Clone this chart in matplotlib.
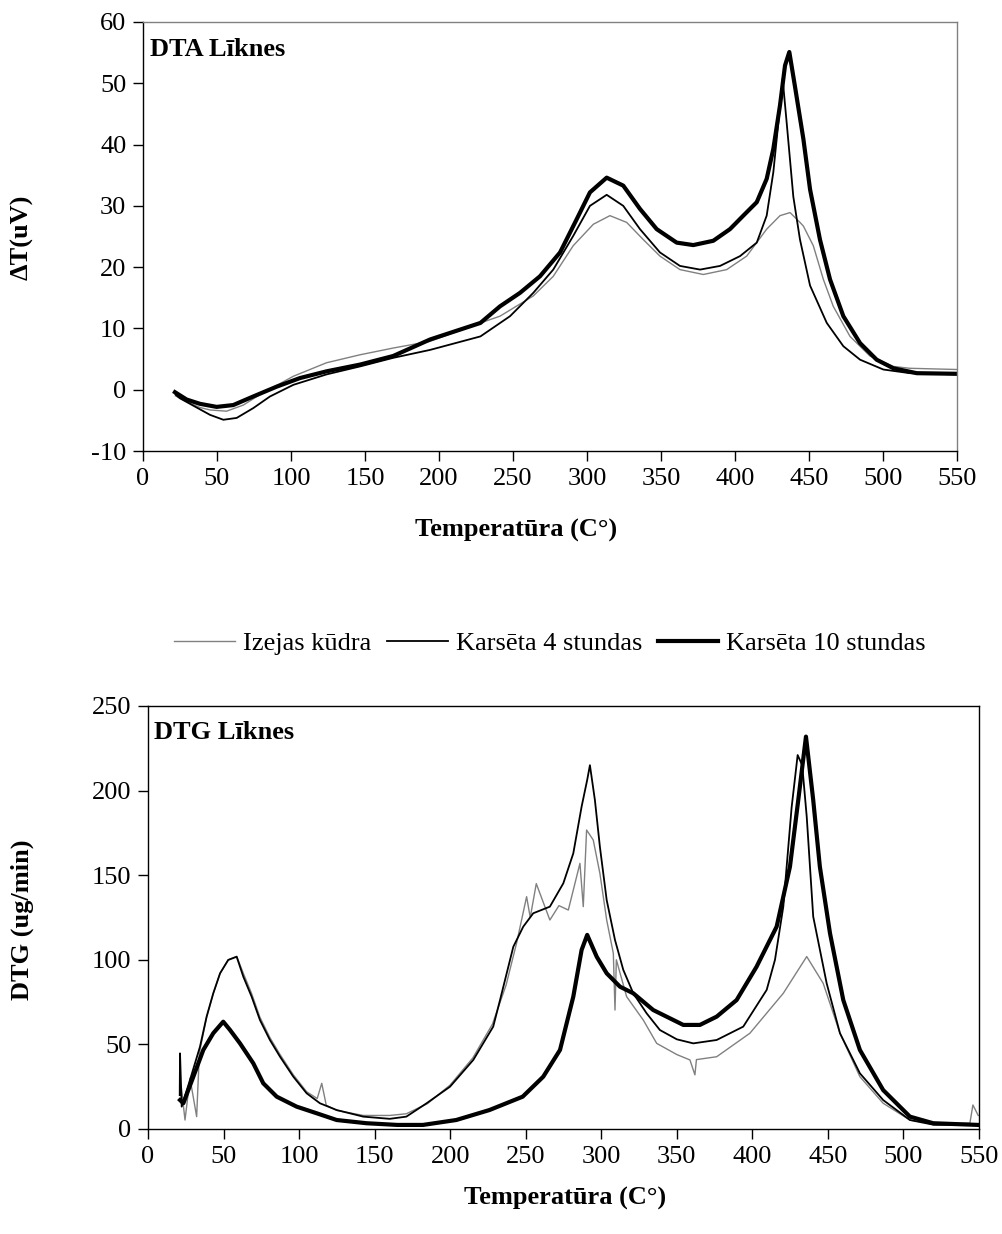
import matplotlib
matplotlib.use("Agg")
import matplotlib.pyplot as plt

plt.rcParams['font.family'] = ['Liberation Serif', 'DejaVu Serif']
plt.rcParams['axes.unicode_minus'] = False

series_names = ["Izejas kūdra", "Karsēta 4 stundas", "Karsēta 10 stundas"]

# DTA curves (temperature C, delta T uV)
dta_raw_t = [22, 30, 38.5, 45.3, 56.5, 67.8, 79, 101.6, 124, 146.6, 169, 194, 228, 241.2, 263.7, 277.2,
             290.7, 304.3, 315.5, 326.8, 338, 349.3, 362.8, 378.6, 394.4, 407.9, 421.4, 430.4, 437.2, 443.9,
             446.2, 452.9, 459.7, 466.4, 477.7, 491.2, 507, 518, 550]
dta_raw_v = [-1.0, -2.0, -2.9, -3.3, -3.5, -2.5, -0.8, 2.2, 4.4, 5.7, 6.8, 7.9, 10.9, 12.0, 15.3, 18.5,
             23.5, 27.0, 28.4, 27.3, 24.5, 21.8, 19.6, 18.8, 19.6, 21.8, 26.2, 28.4, 28.9, 27.3,
             26.7, 23.5, 18.0, 13.6, 8.7, 5.5, 3.8, 3.5, 3.3]

dta_4h_t = [22, 25, 34, 45.3, 54.3, 63.3, 74.5, 85.8, 101.6, 124, 146.6, 169, 194, 228, 248, 263.7, 277.2,
            290.7, 302, 313.3, 324.5, 335.8, 349.3, 362.8, 376.4, 389.9, 403.4, 414.7, 421.4, 425.9, 429.3,
            432.2, 434.9, 439.4, 443.9, 450.7, 462, 473.2, 484.5, 500.2, 518.2, 550]
dta_4h_v = [-0.8, -1.4, -2.6, -4.1, -4.9, -4.6, -3.0, -1.1, 0.8, 2.5, 3.8, 5.2, 6.5, 8.7, 12.0, 15.8, 19.6,
            25.1, 30.0, 31.8, 30.0, 26.2, 22.4, 20.2, 19.6, 20.2, 21.8, 24.0, 28.4, 35.5, 43.6,
            50.7, 43.6, 31.5, 24.5, 17.0, 10.9, 7.1, 4.9, 3.3, 2.7, 2.5]

dta_10h_t = [21.6, 29.5, 38.5, 49.8, 61, 74.5, 90.3, 106, 124, 146.6, 169, 194, 228, 241.2, 254.7, 268.2,
             281.8, 293, 302, 313.3, 324.5, 335.8, 347.1, 360.6, 371.8, 385.3, 396.6, 405.6, 414.7, 421.4,
             425.9, 430.4, 433.8, 436.7, 440.5, 446.2, 450.7, 457.4, 464.2, 473.2, 484.5, 495.7, 507, 522.8, 550]
dta_10h_v = [-0.4, -1.6, -2.3, -2.8, -2.5, -1.1, 0.5, 1.9, 3.0, 4.1, 5.5, 8.2, 10.9, 13.6, 15.8, 18.5,
             22.4, 27.8, 32.2, 34.6, 33.3, 29.5, 26.2, 24.0, 23.6, 24.3, 26.2, 28.4, 30.6, 34.4,
             39.3, 46.4, 52.9, 55.1, 49.5, 40.9, 32.7, 24.5, 18.0, 12.0, 7.6, 4.9, 3.5, 2.7, 2.6]

# DTG curves (temperature C, ug/min)
dtg_raw_t = [22, 24.5, 27.8, 32.2, 34, 38.8, 43.2, 47.7, 53.1, 58.7, 63.1, 68.6, 74.1, 80.7, 87.4, 96.2,
             105, 112, 115, 118, 124.9, 142.5, 160, 171, 185, 200, 215, 228, 237, 244, 250.6, 253, 257, 266,
             272, 278.2, 285.9, 288.1, 290.3, 294.7, 299.1, 303.6, 308, 309.1, 310, 316.8, 327.8, 336.7,
             350, 358.7, 362, 363, 376.4, 398.4, 420.5, 436, 446.9, 458, 471.2, 486.6, 504.3, 520, 544,
             546, 549.5]
dtg_raw_v = [25, 5.3, 30, 7.3, 45, 66, 80, 92, 100, 102, 92, 80, 66, 54, 44, 32,
             22, 18, 27, 14, 11, 8, 8, 9, 15, 26, 42, 62, 85, 110, 137.3, 125, 145, 123.5,
             132, 129.4, 157, 131.4, 176.7, 170.8, 151.1, 123.5, 103.8, 70.3, 100, 78.2, 64.4, 50.6,
             44, 40.8, 32, 41, 42.7, 56.6, 80.2, 101.9, 86.1, 56.6, 30.9, 15.2, 5.3, 3, 3.4,
             14.2, 8]

dtg_4h_t = [21, 21.2, 22.3, 27.8, 34.4, 38.8, 43.2, 47.7, 53.1, 58.7, 63.1, 68.6, 74.1, 80.7, 87.4, 96.2,
            105, 113.8, 124.9, 142.5, 160, 171, 184.4, 199.9, 215.3, 228.5, 233, 241.8, 248.4, 255, 266,
            274.9, 281.5, 287, 290.7, 292.5, 295.8, 299.1, 303.6, 309.1, 314.6, 321.2, 330, 338.8, 350,
            360.9, 376.4, 394, 409.5, 415, 420.5, 426, 430, 433, 436, 440.3, 449.2, 458, 471.2, 486.6,
            504.3, 520, 549.5]
dtg_4h_v = [20, 44.7, 13.2, 29, 48.6, 66.4, 80.2, 92, 99.9, 101.8, 90, 78.2, 64.4, 52.6, 42.7, 30.9,
            21.1, 15.2, 11.2, 7.3, 6, 7.3, 15.2, 25, 40.8, 60.5, 76.2, 107.7, 119.6, 127.5, 131.4,
            145.2, 162.9, 190.5, 206.3, 215, 194.4, 166.8, 135.3, 111.7, 94, 80.2, 68.4, 58.5, 53,
            50.6, 52.6, 60.5, 82.2, 100, 131.4, 190, 221, 215, 184.6, 125.5, 86.1, 56.6, 32.9, 17.1,
            5.3, 2.5, 2.4]

dtg_10h_t = [21.2, 23.4, 30, 36.6, 43.2, 49.8, 54.3, 60.9, 69.7, 76.3, 85.2, 98.4, 111.6, 124.9, 144.7,
             165, 182, 204, 226, 248, 261.6, 272.7, 281.5, 287, 290.7, 297, 303.6, 312.4, 321.2, 334.4,
             354.3, 365.3, 376.4, 389.6, 402.8, 416.1, 424.9, 430.4, 435.5, 440.3, 444.7, 451.4, 460.2,
             471.2, 486.6, 504.3, 519.7, 549.5]
dtg_10h_v = [17.1, 15.2, 30.9, 46.7, 56.6, 63.4, 58.5, 50.6, 38.8, 27, 19.1, 13.2, 9.3, 5.3, 3.4,
             2.4, 2.4, 5.3, 11.2, 19.1, 30.9, 46.7, 78.2, 105.8, 114.7, 101.8, 92, 84.1, 80.2, 70.3,
             61.5, 61.5, 66.4, 76.2, 95.9, 119.6, 155, 194.4, 231.9, 194.4, 155, 115.7, 76.2,
             46.7, 23, 7.3, 3.4, 2.4]

x_ticks = list(range(0, 551, 50))
dta_ticks = list(range(-10, 61, 10))
dtg_ticks = list(range(0, 251, 50))

colors = ["#808080", "black", "black"]
widths = [1.0, 1.3, 3.0]
fs = 19

fig = plt.figure(figsize=(10.02, 12.34), dpi=100)
ax1 = fig.add_axes([0.1427, 0.6345, 0.8124, 0.3477])
ax2 = fig.add_axes([0.1477, 0.0851, 0.8293, 0.3428])

dta = [(dta_raw_t, dta_raw_v), (dta_4h_t, dta_4h_v), (dta_10h_t, dta_10h_v)]
dtg = [(dtg_raw_t, dtg_raw_v), (dtg_4h_t, dtg_4h_v), (dtg_10h_t, dtg_10h_v)]

lines = []
for (t, v), c, w, name in zip(dta, colors, widths, series_names):
    ln, = ax1.plot(t, v, color=c, lw=w, label=name, solid_joinstyle='round')
    lines.append(ln)
for (t, v), c, w in zip(dtg, colors, widths):
    ax2.plot(t, v, color=c, lw=w, solid_joinstyle='round')

ax1.set_xlim(0, 550)
ax1.set_ylim(-10, 60)
ax1.set_yticks(dta_ticks)
ax2.set_xlim(0, 550)
ax2.set_ylim(0, 250)
ax2.set_yticks(dtg_ticks)

for ax in (ax1, ax2):
    ax.set_xticks(x_ticks)
    ax.tick_params(direction='out', length=7, width=1, labelsize=fs, pad=5)
    for s in ax.spines.values():
        s.set_linewidth(1.0)
ax1.spines['top'].set_color('#808080')
ax1.spines['right'].set_color('#808080')

ax1.text(0.009, 0.935, "DTA Līknes", transform=ax1.transAxes, fontsize=fs, fontweight='bold', va='center')
ax2.text(0.007, 0.938, "DTG Līknes", transform=ax2.transAxes, fontsize=fs, fontweight='bold', va='center')

fig.text(0.515, 0.5705, "Temperatūra (C°)", ha='center', va='center', fontsize=fs, fontweight='bold')
fig.text(0.564, 0.0292, "Temperatūra (C°)", ha='center', va='center', fontsize=fs, fontweight='bold')
fig.text(0.022, 0.808, "ΔT(uV)", rotation=90, ha='center', va='center', fontsize=fs, fontweight='bold')
fig.text(0.022, 0.2545, "DTG (ug/min)", rotation=90, ha='center', va='center', fontsize=fs, fontweight='bold')

fig.legend(handles=lines, loc='center', bbox_to_anchor=(0.549, 0.4789), ncol=3, frameon=False,
           fontsize=fs, handlelength=2.3, handletextpad=0.3, columnspacing=0.6)

fig.savefig("out.png", dpi=100)
